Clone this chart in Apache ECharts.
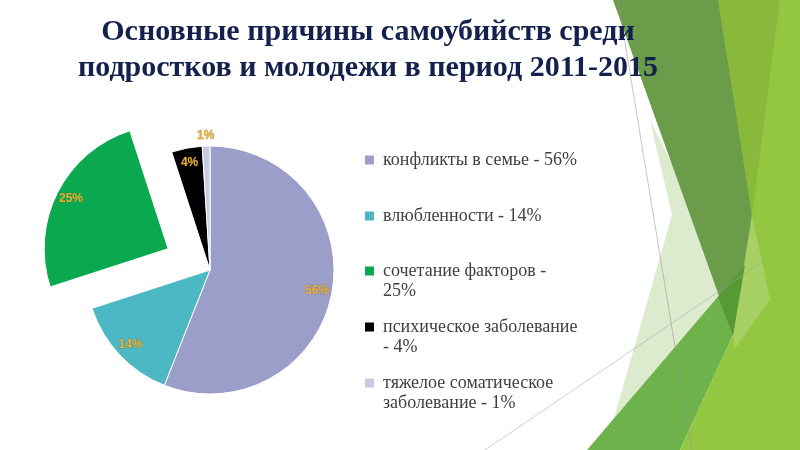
<!DOCTYPE html>
<html>
<head>
<meta charset="utf-8">
<script src="https://cdn.jsdelivr.net/npm/echarts@6/dist/echarts.min.js"></script>
<style>html,body{margin:0;padding:0;background:#fff}#c{width:800px;height:450px}</style>
</head>
<body>
<div id="c"></div>
<script>
const titleLines = ['Основные причины самоубийств среди', 'подростков и молодежи в период 2011-2015'];
const categories = ['конфликты в семье', 'влюбленности', 'сочетание факторов', 'психическое заболевание', 'тяжелое соматическое заболевание'];
const values = [56, 14, 25, 4, 1];
const legendLabels = ['конфликты в семье - 56%', 'влюбленности - 14%', 'сочетание факторов -\n25%', 'психическое заболевание\n- 4%', 'тяжелое соматическое\nзаболевание - 1%'];
const colors = ['#9b9ec8', '#4bb8c4', '#0aa84f', '#000000', '#c9cbe3'];
const explodedIndex = 2;
const outsideLabelIndex = 4;

const chart = echarts.init(document.getElementById('c'), null, {renderer: 'canvas'});

const R = 124;
const center = [210, 270];

const legendTops = [150, 206, 261, 317, 373];
const legends = categories.map((name, i) => {
  const multi = legendLabels[i].indexOf('\n') >= 0;
  return {
    orient: 'vertical',
    left: 365,
    top: legendTops[i],
    padding: 0,
    itemWidth: 9,
    itemHeight: multi ? 29 : 9,
    icon: multi ? 'path://M0,0L9,0L9,9L0,9Z M0,29L0.01,29' : 'rect',
    selectedMode: false,
    itemStyle: {borderWidth: 0},
    data: [{name: name, itemStyle: {color: colors[i], borderWidth: 0}}],
    formatter: n => legendLabels[categories.indexOf(n)],
    textStyle: {
      fontFamily: 'Liberation Serif',
      fontSize: 18,
      color: '#404040',
      lineHeight: 20,
      padding: [0, 0, 0, 4]
    }
  };
});

const baseData = categories.map((name, i) => ({
  name: name,
  value: values[i],
  selected: i === explodedIndex,
  itemStyle: {color: colors[i]}
}));

function labelRingData(showFn) {
  return categories.map((name, i) => ({
    name: name,
    value: values[i],
    selected: i === explodedIndex,
    itemStyle: {color: 'rgba(0,0,0,0)', borderWidth: 0},
    label: {show: showFn(i)}
  }));
}

const labelStyle = {
  show: true,
  position: 'inside',
  formatter: p => p.value + '%',
  fontFamily: 'Liberation Sans',
  fontWeight: 'bold',
  fontSize: 12,
  color: '#e4b23a',
  textBorderColor: 'rgba(130,85,0,0.4)',
  textBorderWidth: 0.8
};

const greenPolys = [
  {pts: [[605,450],[650,450],[733,335],[680,180],[650,120],[672,215]], color: '#dcebcd'},
  {pts: [[587,450],[745,265],[733,335],[680,450]], color: '#6db24a'},
  {pts: [[715,0],[800,0],[800,450],[680,450],[733,335],[752,215]], color: '#93c741'},
  {pts: [[718,0],[780,0],[752,215]], color: '#88b93b'},
  {pts: [[752,215],[770,300],[735,348],[733,335]], color: '#a6d064'},
  {pts: [[613,0],[718,0],[752,215],[733,335]], color: '#6a9c4a'},
  {pts: [[718,297],[745,265],[733,335]], color: '#579a33'}
];
const graphics = greenPolys.map(p => ({
  type: 'polygon', z: -10, silent: true,
  shape: {points: p.pts},
  style: {fill: p.color}
}));
graphics.push({type: 'line', z: -9, silent: true, shape: {x1: 618, y1: 0, x2: 692, y2: 450}, style: {stroke: 'rgba(150,150,150,0.55)', lineWidth: 1}});
graphics.push({type: 'line', z: -9, silent: true, shape: {x1: 485, y1: 450, x2: 762, y2: 262}, style: {stroke: 'rgba(160,160,160,0.5)', lineWidth: 1}});

const pieCommon = {
  type: 'pie',
  center: center,
  startAngle: 90,
  clockwise: true,
  selectedMode: 'single',
  selectedOffset: 47,
  avoidLabelOverlap: false,
  labelLine: {show: false},
  emphasis: {disabled: true}
};

chart.setOption({
  backgroundColor: '#ffffff',
  animation: false,
  title: {
    text: titleLines.join('\n'),
    left: 368,
    textAlign: 'center',
    top: 14,
    padding: 0,
    textStyle: {
      fontFamily: 'Liberation Serif',
      fontWeight: 'bold',
      fontSize: 30,
      lineHeight: 36,
      color: '#15214d'
    }
  },
  graphic: {elements: graphics},
  legend: legends,
  series: [
    Object.assign({}, pieCommon, {
      radius: [0, R],
      label: {show: false},
      itemStyle: {borderColor: '#ffffff', borderWidth: 1},
      data: baseData
    }),
    Object.assign({}, pieCommon, {
      radius: [88, R],
      silent: true,
      label: labelStyle,
      data: labelRingData(i => i !== outsideLabelIndex)
    }),
    Object.assign({}, pieCommon, {
      radius: [R, R + 14],
      silent: true,
      label: labelStyle,
      data: labelRingData(i => i === outsideLabelIndex)
    })
  ]
});
</script>
</body>
</html>
